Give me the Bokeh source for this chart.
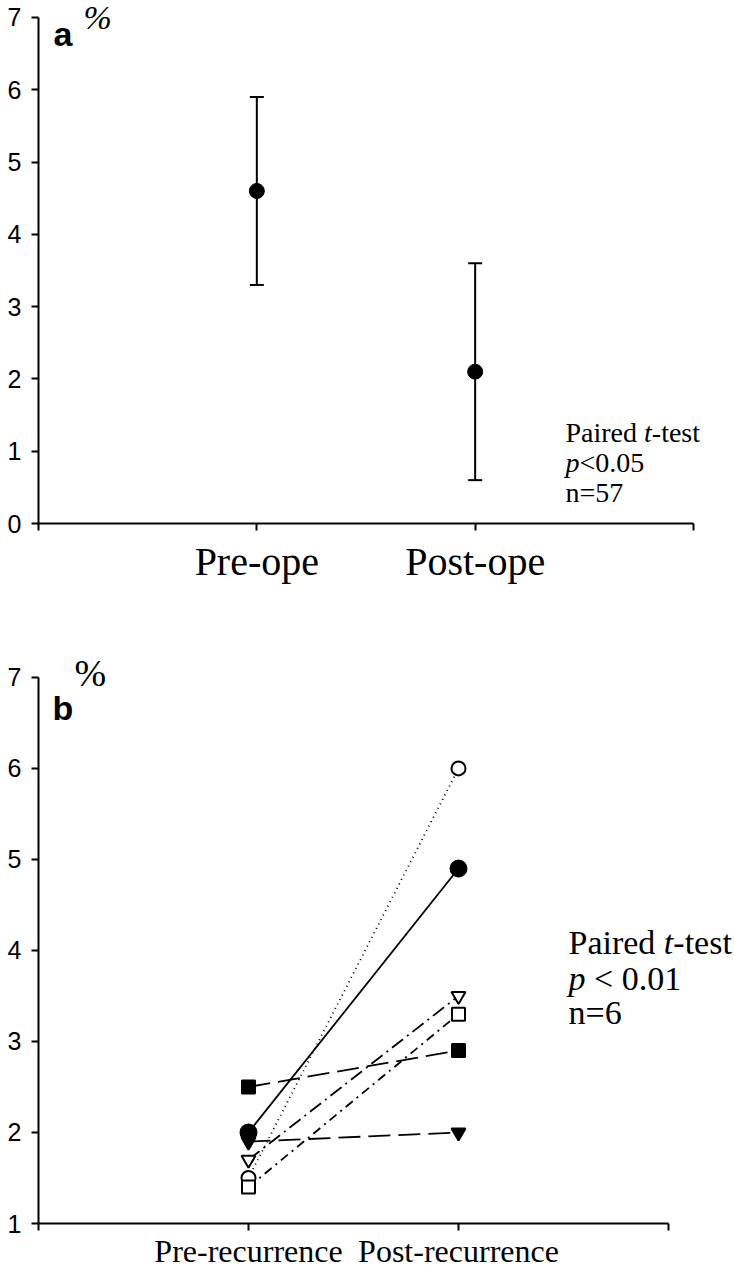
from bokeh.plotting import figure
from bokeh.layouts import column
from bokeh.models import Range1d, FixedTicker, Whisker, TeeHead, ColumnDataSource
from bokeh.core.properties import value
from bokeh.embed import file_html
from bokeh.resources import INLINE

# ---------------- data ----------------
a_categories = ["Pre-ope", "Post-ope"]
a_positions = [1, 2]
a_mean = [4.6, 2.1]
a_lower = [3.3, 0.6]
a_upper = [5.9, 3.6]
a_yticks = [0, 1, 2, 3, 4, 5, 6, 7]

b_categories = ["Pre-recurrence", "Post-recurrence"]
b_positions = [1, 2]
b_pre = [1.5, 2.0, 1.7, 1.4, 2.5, 1.9]
b_post = [6.0, 4.9, 3.5, 3.3, 2.9, 2.0]
b_yticks = [1, 2, 3, 4, 5, 6, 7]

# styles (separate from data)
b_markers = ["circle", "circle", "inverted_triangle", "square", "square", "inverted_triangle"]
b_filled = [False, True, False, False, True, True]
b_dash = ["1 4", "solid", "14 5 2 5", "9 5 2 5", "22 8", "22 8"]
b_size = [14, 16, 14, 13, 13, 14]

SANS = value("Liberation Sans")
SERIF = value("Liberation Serif")

W = 734

# ---------------- panel a ----------------
AX0, AXU = 38, 218.33      # pixel of x=0, px per unit
AY0, AYU = 523, 72.29      # pixel of y=0, px per unit

def ax(px):
    return (px - AX0) / AXU

def ay(py):
    return (AY0 - py) / AYU

pa = figure(width=W, height=600, x_range=Range1d(0, (W - AX0) / AXU),
            y_range=Range1d(0, AY0 / AYU), output_backend="svg", toolbar_location=None,
            min_border_left=AX0, min_border_right=0, min_border_top=0, min_border_bottom=77)


def style_axes(p, yticks, xlabels, xfont, xstandoff, ybounds):
    p.grid.visible = False
    p.outline_line_color = None
    p.background_fill_color = "white"
    p.border_fill_color = "white"
    ya = p.yaxis[0]
    ya.ticker = FixedTicker(ticks=yticks)
    ya.bounds = ybounds
    ya.axis_line_width = 2
    ya.axis_line_color = "black"
    ya.major_tick_line_width = 2
    ya.major_tick_line_color = "black"
    ya.major_tick_out = 7
    ya.major_tick_in = 0
    ya.minor_tick_line_color = None
    ya.major_label_text_font = "Liberation Sans"
    ya.major_label_text_font_size = "25px"
    ya.major_label_text_color = "black"
    ya.major_label_standoff = 10
    xa = p.xaxis[0]
    xa.ticker = FixedTicker(ticks=[0, 1, 2, 3])
    xa.bounds = (0, 3)
    overrides = {0: "", 3: ""}
    overrides.update(xlabels)
    xa.major_label_overrides = overrides
    xa.axis_line_width = 2
    xa.axis_line_color = "black"
    xa.major_tick_line_width = 2
    xa.major_tick_line_color = "black"
    xa.major_tick_out = 7
    xa.major_tick_in = 0
    xa.minor_tick_line_color = None
    xa.major_label_text_font = "Liberation Serif"
    xa.major_label_text_font_size = xfont
    xa.major_label_text_color = "black"
    xa.major_label_standoff = xstandoff


style_axes(pa, a_yticks, dict(zip(a_positions, a_categories)), "40px", 8, (0, 7))

src_a = ColumnDataSource(dict(x=a_positions, mean=a_mean, lower=a_lower, upper=a_upper))
pa.add_layout(Whisker(source=src_a, base="x", upper="upper", lower="lower",
                      dimension="height", line_width=2, line_color="black",
                      upper_head=TeeHead(size=14, line_width=2, line_color="black"),
                      lower_head=TeeHead(size=14, line_width=2, line_color="black")))
pa.scatter(x="x", y="mean", source=src_a, size=15, marker="circle",
           fill_color="black", line_color="black")


def txt(p, x, y, s, font, size, style="normal"):
    p.text(x=[x], y=[y], text=[s], text_font=font, text_font_size=size,
           text_font_style=style, text_baseline="alphabetic", text_align="left",
           text_color="black")


txt(pa, ax(53), ay(33), "a", SANS, "34px", "bold")
txt(pa, ax(83), ay(17), "%", SERIF, "34px", "italic")
# Paired t-test annotation (28px serif)
fs = 28
x0 = 565
txt(pa, ax(x0), ay(432), "Paired ", SERIF, f"{fs}px")
txt(pa, ax(x0 + 2.805 * fs), ay(432), "t", SERIF, f"{fs}px", "italic")
txt(pa, ax(x0 + 2.805 * fs + 0.278 * fs), ay(432), "-test", SERIF, f"{fs}px")
txt(pa, ax(x0), ay(462), "p", SERIF, f"{fs}px", "italic")
txt(pa, ax(x0 + 0.5 * fs), ay(462), "<0.05", SERIF, f"{fs}px")
txt(pa, ax(x0), ay(492), "n=57", SERIF, f"{fs}px")

# ---------------- panel b ----------------
BTOP = 600
BX0, BXU = 38, 210.0
BY1, BYU = 1224, 91.17     # pixel (page) of y=1, px per unit

def bx(px):
    return (px - BX0) / BXU

def by(py):
    return 1 + (BY1 - py) / BYU

pb = figure(width=W, height=671, x_range=Range1d(0, (W - BX0) / BXU),
            y_range=Range1d(1, 1 + (BY1 - BTOP) / BYU), output_backend="svg",
            toolbar_location=None, min_border_left=BX0, min_border_right=0,
            min_border_top=0, min_border_bottom=47)
style_axes(pb, b_yticks, dict(zip(b_positions, b_categories)), "32px", 2, (1, 7))

for pre, post, dash in zip(b_pre, b_post, b_dash):
    pb.line(x=b_positions, y=[pre, post], line_color="black", line_width=1.8,
            line_dash=dash)

for pre, post, mk, filled, sz in zip(b_pre, b_post, b_markers, b_filled, b_size):
    pb.scatter(x=b_positions, y=[pre, post], marker=mk, size=sz,
               fill_color="black" if filled else "white", line_color="black",
               line_width=2)

txt(pb, bx(52), by(708), "b", SANS, "34px", "bold")
txt(pb, bx(74), by(673), "%", SERIF, "38px")
fs = 34
x0 = 568
txt(pb, bx(x0), by(943), "Paired ", SERIF, f"{fs}px")
txt(pb, bx(x0 + 2.805 * fs), by(943), "t", SERIF, f"{fs}px", "italic")
txt(pb, bx(x0 + 2.805 * fs + 0.278 * fs), by(943), "-test", SERIF, f"{fs}px")
txt(pb, bx(x0), by(979), "p", SERIF, f"{fs}px", "italic")
txt(pb, bx(x0 + 0.75 * fs), by(979), "< 0.01", SERIF, f"{fs}px")
txt(pb, bx(x0), by(1013), "n=6", SERIF, f"{fs}px")

layout = column(pa, pb)
open("out.html", "w").write(file_html(layout, INLINE))
